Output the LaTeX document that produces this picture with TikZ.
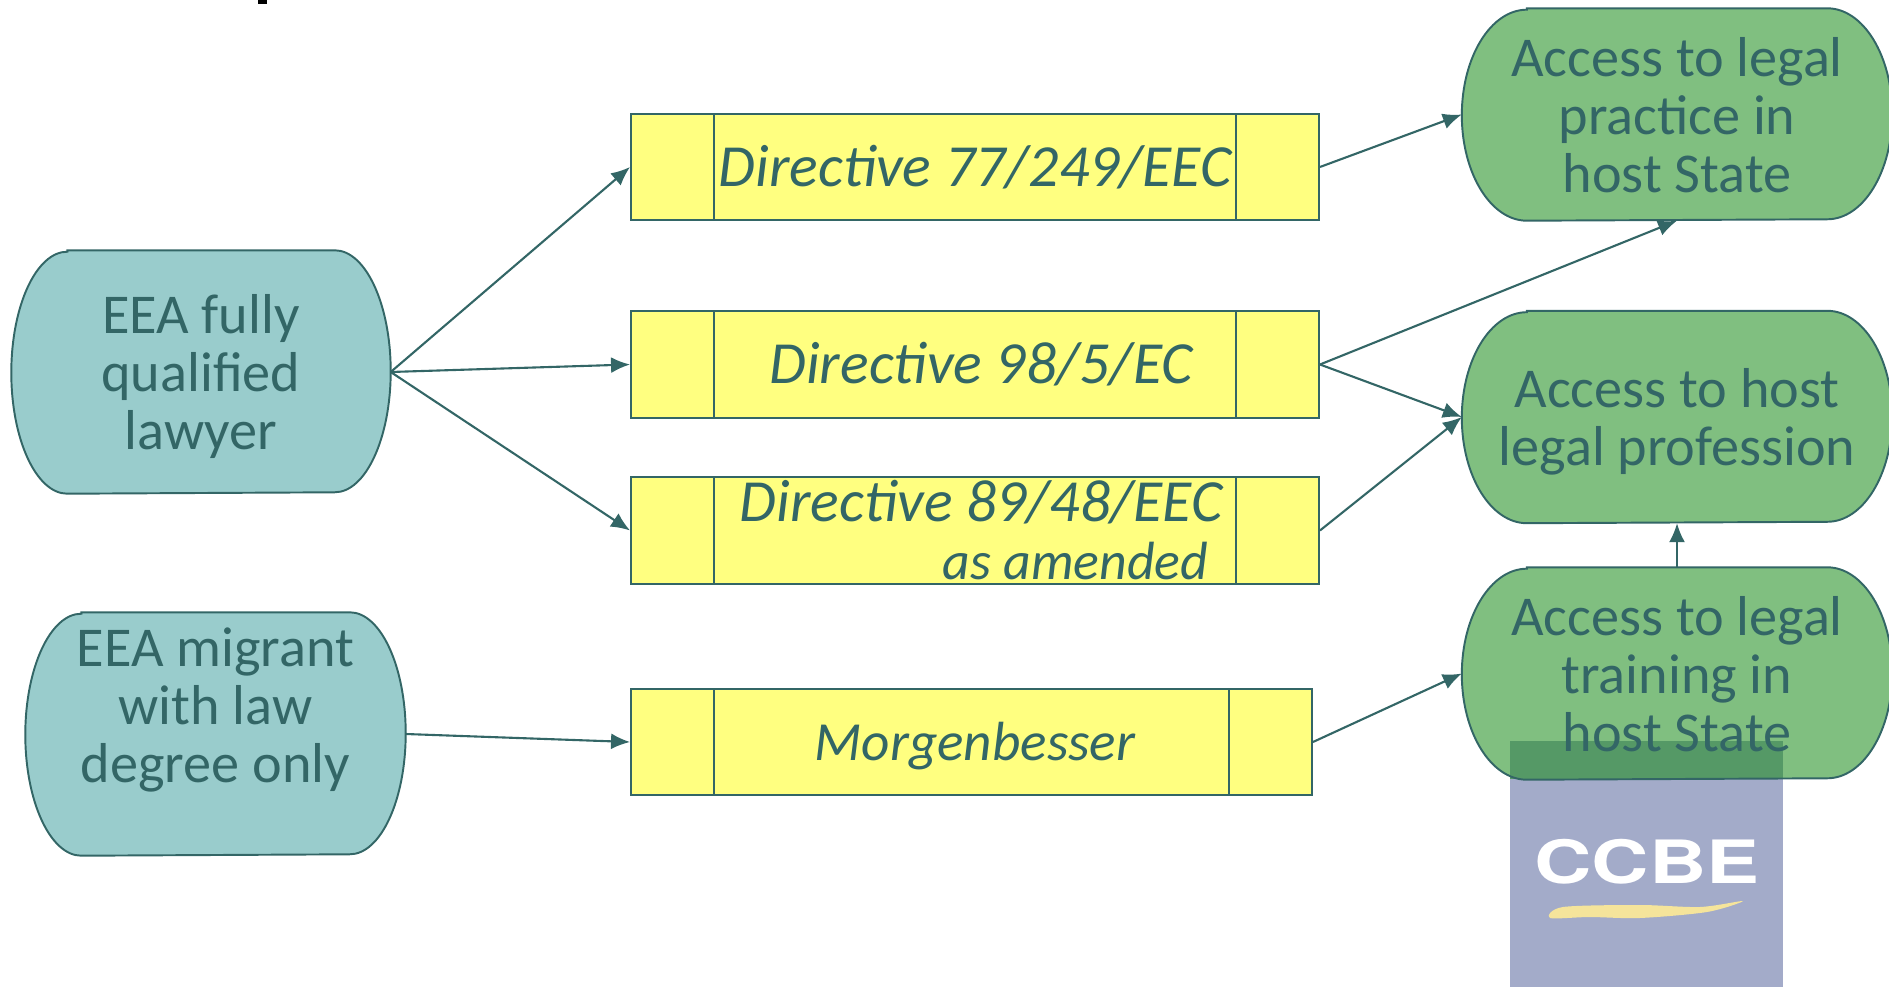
\documentclass[tikz,border=0pt]{standalone}
\usepackage{fontspec}
\setmainfont{Carlito}
\newfontfamily\logofont{TeX Gyre Heros}
\usetikzlibrary{arrows.meta,backgrounds}
\definecolor{inkteal}{HTML}{336666}
\definecolor{paleteal}{HTML}{99CCCC}
\definecolor{midgreen}{HTML}{80BF80}
\definecolor{overlapgreen}{HTML}{559966}
\definecolor{boxyellow}{HTML}{FFFF80}
\definecolor{logoblue}{HTML}{A3ABC9}
\definecolor{logoyellow}{HTML}{F5E49B}
\tikzset{
	capsule/.style={inner sep=0pt, align=center, text=inkteal, text height=1.56cm, font=\fontsize{16}{16.5}\selectfont},
	procbox/.style 2 args={draw=inkteal, line width=0.55pt, fill=boxyellow, inner sep=0pt, align=center,
		text=inkteal, minimum width=#1, minimum height=#2, font=\fontsize{17}{16.5}\selectfont\itshape,
		path picture={
			\draw[inkteal, line width=0.55pt] ([xshift=0.83cm]path picture bounding box.south west) -- ([xshift=0.83cm]path picture bounding box.north west);
			\draw[inkteal, line width=0.55pt] ([xshift=-0.83cm]path picture bounding box.south east) -- ([xshift=-0.83cm]path picture bounding box.north east);
		}},
	link/.style={draw=inkteal, line width=0.6pt, -{Latex[length=0.19cm,width=0.16cm]}}
}
% outline round a named node: flat top and bottom, elliptical ends
\newcommand{\capsulepath}[4]{
	\path[#4] ([xshift=#2cm]#1.north west) -- ([xshift=-#2cm]#1.north east)
		arc[start angle=90, end angle=-90, x radius=#2, y radius=#3]
		-- ([xshift=#2cm]#1.south west)
		arc[start angle=270, end angle=90, x radius=#2, y radius=#3] -- cycle;
}
\begin{document}
\begin{tikzpicture}
	\useasboundingbox (0, 0) rectangle (18.89, 9.87);

	% left column
	\node[capsule, text height=1.65cm, minimum width=3.78cm, minimum height=2.42cm] (lawyer) at (2.01, 6.15) {EEA fully\\qualified\\lawyer};
	\node[capsule, text height=1.59cm, text depth=0.62cm, minimum width=3.79cm, minimum height=2.42cm] (migrant) at (2.155, 2.53) {EEA migrant\\with law\\degree only};

	% middle column
	\node[procbox={6.88cm}{1.06cm}] (dir77) at (9.75, 8.20) {Directive 77/249/EEC};
	\node[procbox={6.88cm}{1.07cm}] (dir98) at (9.75, 6.225) {\hspace*{0.12cm}Directive 98/5/EC};
	\node[procbox={6.88cm}{1.07cm}, align=right] (dir89) at (9.75, 4.565) {\hspace*{0.12cm}Directive 89/48/EEC\\{\fontsize{15.3}{16.5}\selectfont as amended}\hspace*{0.14cm}};
	\node[procbox={6.81cm}{1.06cm}, text height=0.46cm, font=\fontsize{15.7}{16.5}\selectfont\itshape] (morgen) at (9.715, 2.45) {\hspace*{0.07cm}Morgenbesser};

	% right column
	\node[capsule, minimum width=4.29cm, minimum height=2.11cm] (practice) at (16.77, 8.725) {Access to legal\\practice in\\host State};
	\node[capsule, text height=1.07cm, minimum width=4.29cm, minimum height=2.11cm] (profession) at (16.77, 5.70) {Access to host\\legal profession};
	\node[capsule, minimum width=4.29cm, minimum height=2.11cm] (training) at (16.77, 3.135) {Access to legal\\training in\\host State};

	% logo text
	\node[inner sep=0pt, text=white, xscale=1.33, transform shape, font=\logofont\bfseries\fontsize{17}{17}\selectfont] (logo) at (16.47, 1.25) {CCBE};

	\begin{pgfonlayer}{background}
		\fill[logoblue] (15.10, 0) rectangle (17.83, 2.46);
		\fill[logoyellow] plot[smooth cycle] coordinates {(15.50, 0.69) (15.63, 0.80) (16.40, 0.82) (17.00, 0.80) (17.43, 0.86) (17.07, 0.75) (16.40, 0.69) (15.90, 0.70)};
		\capsulepath{lawyer}{0.56}{1.21}{fill=paleteal, draw=inkteal, line width=0.55pt}
		\capsulepath{migrant}{0.56}{1.21}{fill=paleteal, draw=inkteal, line width=0.55pt}
		\capsulepath{practice}{0.65}{1.055}{fill=midgreen, draw=inkteal, line width=0.55pt}
		\capsulepath{profession}{0.65}{1.055}{fill=midgreen, draw=inkteal, line width=0.55pt}
		\capsulepath{training}{0.65}{1.055}{fill=midgreen}
		\fill[overlapgreen] (15.10, 2.08) rectangle (17.83, 2.46);
		\capsulepath{training}{0.65}{1.055}{draw=inkteal, line width=0.55pt}
	\end{pgfonlayer}

	\fill[black] (2.58, 9.83) rectangle (2.67, 9.87);

	\draw[link] (lawyer.east) -- (dir77.west);
	\draw[link] (lawyer.east) -- (dir98.west);
	\draw[link] (lawyer.east) -- (dir89.west);
	\draw[link] (migrant.east) -- (morgen.west);
	\draw[link] (dir77.east) -- (practice.west);
	\draw[link] (dir98.east) -- (practice.south);
	\draw[link] (dir98.east) -- (profession.west);
	\draw[link] (dir89.east) -- (profession.west);
	\draw[link] (morgen.east) -- (training.west);
	\draw[link] (training.north) -- (profession.south);
\end{tikzpicture}
\end{document}
